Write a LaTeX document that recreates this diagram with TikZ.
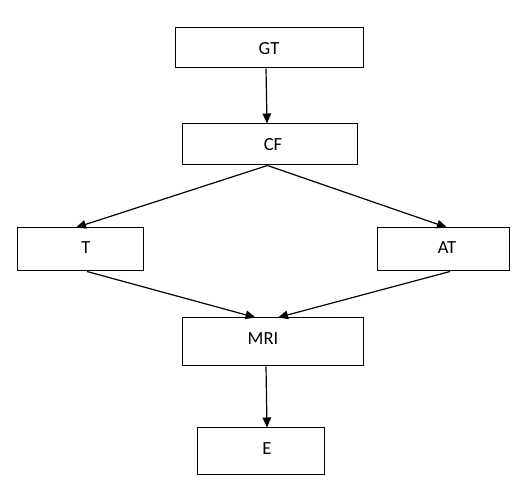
\documentclass[tikz,border=0pt]{standalone}
\usepackage{fontspec}
\setmainfont{Carlito}
\usetikzlibrary{arrows.meta}

\begin{document}
\begin{tikzpicture}[x=1pt, y=-1pt, >={Triangle[length=10pt,width=8.5pt]},
  box/.style={draw, line width=1pt, inner sep=0pt},
  lbl/.style={font=\fontsize{18.5}{22}\selectfont, inner sep=0pt},
  link/.style={->, line width=1.2pt}]
\useasboundingbox (0,0) rectangle (528,494);

% boxes
\node[box, minimum width=188pt, minimum height=40pt] (gt) at (269,48) {};
\node[box, minimum width=175pt, minimum height=41pt] (cf) at (269.5,144.5) {};
\node[box, minimum width=126pt, minimum height=43pt] (t) at (80,249.5) {};
\node[box, minimum width=132pt, minimum height=43pt] (at) at (443,249.5) {};
\node[box, minimum width=181pt, minimum height=48pt] (mri) at (272.5,342) {};
\node[box, minimum width=127pt, minimum height=47pt] (e) at (260.5,451.5) {};

% texts
\node[lbl] (gtl) at (269,49) {GT};
\node[lbl] (cfl) at (273,145) {CF};
\node[lbl] (tl) at (86,248) {T};
\node[lbl] (atl) at (447,248) {AT};
\node[lbl] (mril) at (263,339) {MRI};
\node[lbl] (el) at (267,449) {E};

% arrows
\draw[link] ([xshift=-3pt]gt.south) -- ([xshift=-2.5pt]cf.north);
\draw[link] ([xshift=-2pt]cf.south) -- ([xshift=-4pt]t.north);
\draw[link] ([xshift=-2pt]cf.south) -- ([xshift=4pt]at.north);
\draw[link] ([xshift=7pt]t.south) -- ([xshift=-17pt]mri.north);
\draw[link] ([xshift=7pt]at.south) -- ([xshift=5.5pt]mri.north);
\draw[link] ([xshift=-6.5pt]mri.south) -- ([xshift=6.5pt]e.north);
\end{tikzpicture}
\end{document}
